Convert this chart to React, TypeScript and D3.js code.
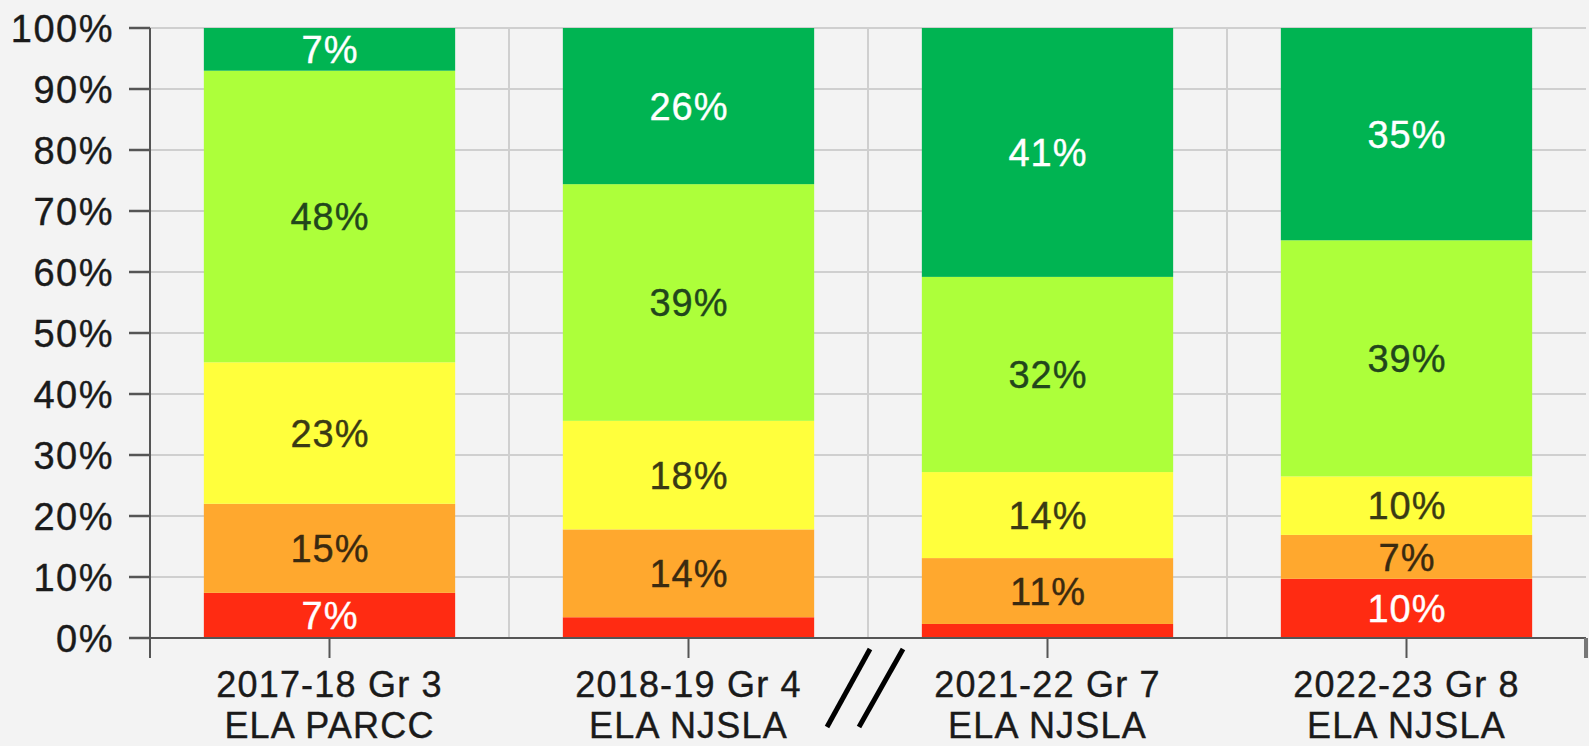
import React from 'react';
import * as d3 from 'd3';

const categories = ['2017-18 Gr 3|ELA PARCC', '2018-19 Gr 4|ELA NJSLA', '2021-22 Gr 7|ELA NJSLA', '2022-23 Gr 8|ELA NJSLA'];
const levels = ['L1', 'L2', 'L3', 'L4', 'L5'];
// percent of students per level, bottom (L1) to top (L5)
const level1 = [7.4, 3.4, 2.3, 9.7];
const level2 = [14.6, 14.4, 10.8, 7.2];
const level3 = [23.2, 17.8, 14.1, 9.6];
const level4 = [47.8, 38.8, 32.0, 38.7];
const level5 = [7.0, 25.6, 40.8, 34.8];
const yTicks = [0, 10, 20, 30, 40, 50, 60, 70, 80, 90, 100];

const colors = ['#ff2b12', '#ffa82e', '#ffff3c', '#adff3a', '#00b452'];
const labelColors = ['#fff', '#3a2a10', '#3a3a14', '#22461c', '#fff'];

const App = () => {
  const width = 1589;
  const height = 746;
  const left = 150;
  const right = 1586;
  const top = 28;
  const bottom = 638;
  const font = '"Liberation Sans", Arial, Helvetica, sans-serif';

  const rows = categories.map((c, i) => ({
    cat: c,
    L1: level1[i],
    L2: level2[i],
    L3: level3[i],
    L4: level4[i],
    L5: level5[i],
  }));
  const stacked = d3.stack<any>().keys(levels)(rows);

  const x = d3.scaleBand().domain(categories).range([left, right]).paddingInner(0.3).paddingOuter(0.15);
  const y = d3.scaleLinear().domain([0, 100]).range([bottom, top]);
  const step = x.step();
  const bounds = d3.range(categories.length + 1).map((i) => left + i * step);

  // break marks sit between 2nd and 3rd category
  const brk = bounds[2];

  return (
    <svg
      width={width}
      height={height}
      style={{ position: 'absolute', left: 0, top: 0, background: '#f3f3f3' }}
      fontFamily={font}
    >
      {/* grid */}
      {yTicks.map((t) => (
        <line key={'h' + t} x1={left} x2={right} y1={y(t)} y2={y(t)} stroke="#cfcfcf" strokeWidth={2} />
      ))}
      {bounds.slice(1, -1).map((b) => (
        <line key={'v' + b} x1={b} x2={b} y1={y(100)} y2={y(0)} stroke="#cfcfcf" strokeWidth={2} />
      ))}

      {/* bars */}
      {stacked.map((layer, li) => (
        <g key={layer.key}>
          {layer.map((d, i) => {
            const y0 = y(d[0]);
            const y1 = y(d[1]);
            const v = d[1] - d[0];
            const cx = (x(categories[i]) || 0) + x.bandwidth() / 2;
            return (
              <g key={i}>
                <rect x={x(categories[i])} width={x.bandwidth()} y={y1} height={y0 - y1} fill={colors[li]} />
                {v >= 5 && (
                  <text
                    x={cx + 0.5}
                    y={(y0 + y1) / 2}
                    dy="0.36em"
                    textAnchor="middle"
                    fontSize={38}
                    letterSpacing={1}
                    fill={labelColors[li]}
                    stroke={labelColors[li]}
                    strokeWidth={0.4}
                  >
                    {Math.round(v)}%
                  </text>
                )}
              </g>
            );
          })}
        </g>
      ))}

      {/* y axis */}
      <line x1={left} x2={left} y1={y(100)} y2={y(0) + 20} stroke="#555" strokeWidth={2} />
      {yTicks.map((t) => (
        <g key={'yt' + t}>
          <line x1={left - 21} x2={left} y1={y(t)} y2={y(t)} stroke="#555" strokeWidth={2.5} />
          <text
            x={114}
            y={y(t)}
            dy="0.36em"
            textAnchor="end"
            fontSize={38}
            letterSpacing={1.5}
            fill="#1a1a1a"
            stroke="#1a1a1a"
            strokeWidth={0.4}
          >
            {t}%
          </text>
        </g>
      ))}

      {/* x axis */}
      <line x1={left} x2={right} y1={y(0)} y2={y(0)} stroke="#555" strokeWidth={2} />
      <line x1={right} x2={right} y1={y(0)} y2={y(0) + 20} stroke="#777" strokeWidth={4} />
      {categories.map((c) => {
        const cx = (x(c) || 0) + x.bandwidth() / 2;
        const [l1, l2] = c.split('|');
        return (
          <g key={c} fontSize={36} letterSpacing={1.2} fill="#1a1a1a" stroke="#1a1a1a" strokeWidth={0.4}>
            <line x1={cx} x2={cx} y1={y(0)} y2={y(0) + 20} stroke="#555" strokeWidth={2} />
            <text x={cx} y={697} textAnchor="middle">
              {l1}
            </text>
            <text x={cx} y={738} textAnchor="middle">
              {l2}
            </text>
          </g>
        );
      })}

      {/* axis break */}
      <line x1={brk + 2} y1={649} x2={brk - 41} y2={727} stroke="#000" strokeWidth={5} />
      <line x1={brk + 35} y1={649} x2={brk - 9} y2={727} stroke="#000" strokeWidth={5} />
    </svg>
  );
};

export default App;
